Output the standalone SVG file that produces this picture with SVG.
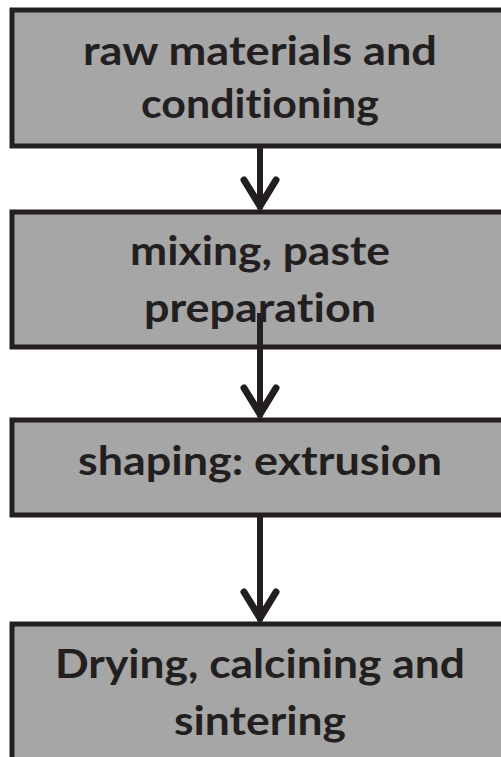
<svg xmlns="http://www.w3.org/2000/svg" width="501" height="757" viewBox="0 0 501 757">
<style>
.box{fill:#a6a6a6;stroke:#231f20;stroke-width:5}
.lbl{font-family:Lato,"Liberation Sans",sans-serif;font-weight:bold;font-size:41px;fill:#231f20;text-anchor:middle;font-variant-ligatures:none;font-feature-settings:"liga" 0,"clig" 0}
.conn{stroke:#231f20;stroke-width:6;fill:none}
</style>
<defs>
<marker id="chev" markerUnits="userSpaceOnUse" markerWidth="50" markerHeight="50" viewBox="-40 -25 50 50" refX="0" refY="0" orient="auto">
<path d="M-29,-16 L-3,0 L-29,16" fill="none" stroke="#231f20" stroke-width="7" stroke-linecap="round" stroke-linejoin="miter"/>
</marker>
</defs>
<g id="n1">
<rect class="box" x="12" y="10" width="520" height="136"/>
<text class="lbl" x="260" y="65" textLength="354" lengthAdjust="spacingAndGlyphs">raw materials and</text>
<text class="lbl" x="260" y="118" textLength="238" lengthAdjust="spacingAndGlyphs">conditioning</text>
</g>
<g id="n2">
<rect class="box" x="12" y="212" width="520" height="135"/>
<text class="lbl" x="260" y="265" textLength="260" lengthAdjust="spacingAndGlyphs">mixing, paste</text>
<text class="lbl" x="260" y="322" textLength="232" lengthAdjust="spacingAndGlyphs">preparation</text>
</g>
<g id="n3">
<rect class="box" x="12" y="420" width="520" height="95"/>
<text class="lbl" x="260" y="475" textLength="364" lengthAdjust="spacingAndGlyphs">shaping: extrusion</text>
</g>
<g id="n4">
<rect class="box" x="12" y="624" width="520" height="150"/>
<text class="lbl" x="260" y="678" textLength="410" lengthAdjust="spacingAndGlyphs">Drying, calcining and</text>
<text class="lbl" x="260" y="735" textLength="172" lengthAdjust="spacingAndGlyphs">sintering</text>
</g>
<g id="connectors">
<path class="conn" d="M260,147 L260,209" marker-end="url(#chev)"/>
<path class="conn" d="M260,313 L260,417" marker-end="url(#chev)"/>
<path class="conn" d="M260,517 L260,621" marker-end="url(#chev)"/>
</g>
</svg>
